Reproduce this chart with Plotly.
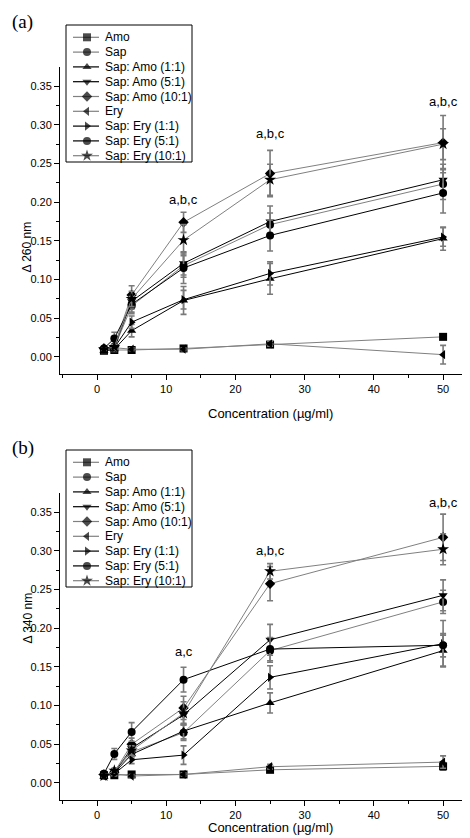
import plotly.graph_objects as go

conc = [1, 2.5, 5, 12.5, 25, 50]

names = ["Amo", "Sap", "Sap: Amo (1:1)", "Sap: Amo (5:1)", "Sap: Amo (10:1)",
         "Ery", "Sap: Ery (1:1)", "Sap: Ery (5:1)", "Sap: Ery (10:1)"]
symbols = ["square", "circle", "triangle-up", "triangle-down", "diamond",
           "triangle-left", "triangle-right", "circle", "star"]
line_colors = ["#808080", "#808080", "#000000", "#000000", "#808080",
               "#808080", "#000000", "#000000", "#808080"]

# Panel (a): Delta 260 nm
a_amo = [0.008, 0.009, 0.009, 0.011, 0.016, 0.026]
a_sap = [0.009, 0.012, 0.066, 0.118, 0.171, 0.2235]
a_sa11 = [0.008, 0.010, 0.034, 0.073, 0.101, 0.153]
a_sa51 = [0.010, 0.013, 0.072, 0.121, 0.175, 0.229]
a_sa101 = [0.011, 0.014, 0.080, 0.174, 0.237, 0.277]
a_ery = [0.010, 0.012, 0.010, 0.010, 0.017, 0.003]
a_se11 = [0.010, 0.012, 0.045, 0.074, 0.108, 0.155]
a_se51 = [0.011, 0.024, 0.068, 0.115, 0.157, 0.212]
a_se101 = [0.010, 0.013, 0.075, 0.151, 0.229, 0.275]

a_err_amo = [0.002, 0.002, 0.002, 0.002, 0.003, 0.003]
a_err_sap = [0.003, 0.004, 0.010, 0.015, 0.015, 0.020]
a_err_sa11 = [0.002, 0.003, 0.008, 0.018, 0.020, 0.015]
a_err_sa51 = [0.002, 0.003, 0.010, 0.015, 0.020, 0.020]
a_err_sa101 = [0.002, 0.003, 0.012, 0.013, 0.030, 0.035]
a_err_ery = [0.002, 0.002, 0.002, 0.002, 0.003, 0.012]
a_err_se11 = [0.002, 0.003, 0.008, 0.012, 0.015, 0.012]
a_err_se51 = [0.003, 0.008, 0.010, 0.020, 0.020, 0.026]
a_err_se101 = [0.002, 0.003, 0.010, 0.020, 0.020, 0.020]

# Panel (b): Delta 340 nm
b_amo = [0.010, 0.010, 0.011, 0.011, 0.017, 0.0215]
b_sap = [0.010, 0.015, 0.040, 0.065, 0.171, 0.234]
b_sa11 = [0.008, 0.013, 0.037, 0.067, 0.1034, 0.171]
b_sa51 = [0.010, 0.013, 0.045, 0.088, 0.185, 0.2425]
b_sa101 = [0.011, 0.014, 0.050, 0.097, 0.2575, 0.3174]
b_ery = [0.009, 0.012, 0.009, 0.011, 0.021, 0.027]
b_se11 = [0.011, 0.012, 0.030, 0.036, 0.1365, 0.180]
b_se51 = [0.012, 0.0375, 0.066, 0.1335, 0.173, 0.178]
b_se101 = [0.009, 0.016, 0.042, 0.090, 0.2735, 0.302]

b_err_amo = [0.002, 0.002, 0.002, 0.002, 0.003, 0.005]
b_err_sap = [0.003, 0.003, 0.006, 0.010, 0.015, 0.015]
b_err_sa11 = [0.002, 0.003, 0.005, 0.010, 0.013, 0.020]
b_err_sa51 = [0.002, 0.003, 0.006, 0.012, 0.020, 0.020]
b_err_sa101 = [0.002, 0.003, 0.008, 0.015, 0.022, 0.030]
b_err_ery = [0.002, 0.002, 0.002, 0.002, 0.003, 0.008]
b_err_se11 = [0.002, 0.003, 0.005, 0.012, 0.015, 0.030]
b_err_se51 = [0.003, 0.007, 0.012, 0.016, 0.015, 0.015]
b_err_se101 = [0.002, 0.003, 0.006, 0.015, 0.010, 0.020]

panel_a = [a_amo, a_sap, a_sa11, a_sa51, a_sa101, a_ery, a_se11, a_se51, a_se101]
panel_a_err = [a_err_amo, a_err_sap, a_err_sa11, a_err_sa51, a_err_sa101,
               a_err_ery, a_err_se11, a_err_se51, a_err_se101]
panel_b = [b_amo, b_sap, b_sa11, b_sa51, b_sa101, b_ery, b_se11, b_se51, b_se101]
panel_b_err = [b_err_amo, b_err_sap, b_err_sa11, b_err_sa51, b_err_sa101,
               b_err_ery, b_err_se11, b_err_se51, b_err_se101]

sig_a_x = [12.5, 25, 50]
sig_a_y = [0.204, 0.289, 0.330]
sig_a_txt = ["a,b,c", "a,b,c", "a,b,c"]
sig_b_x = [12.5, 25, 50]
sig_b_y = [0.170, 0.300, 0.363]
sig_b_txt = ["a,c", "a,b,c", "a,b,c"]

W, H = 470, 838
FONT = "Liberation Sans, Arial, sans-serif"
SERIF = "Liberation Serif, Times New Roman, serif"

fig = go.Figure()


def px(x):
    return x / W


def py(y):
    return 1 - y / H


def msize(sym):
    return 9 if sym == "star" else 8


def add_panel(data, errs, xa, ya):
    for i, (vals, err) in enumerate(zip(data, errs)):
        fig.add_trace(go.Scatter(
            x=conc, y=vals, name=names[i], mode="lines+markers",
            xaxis=xa, yaxis=ya, showlegend=False,
            line=dict(color=line_colors[i], width=1),
            marker=dict(symbol=symbols[i], size=msize(symbols[i]),
                        color="black", line=dict(width=0)),
            error_y=dict(type="data", array=err, visible=True,
                         color="#7a7a7a", thickness=1.6, width=3),
        ))


add_panel(panel_a, panel_a_err, "x", "y")
add_panel(panel_b, panel_b_err, "x2", "y2")

# Hand-built legends (box geometry in pixel units on dedicated overlay axes)
LEG_X0, LEG_X1 = 58, 184
LEG_H = 137
ITEM0, ITEM_STEP = 12.3, 14.8
SEG_X = [65 - LEG_X0, 79 - LEG_X0, 91 - LEG_X0]
TEXT_X = 95 - LEG_X0


def add_legend(xa, ya):
    for i in range(len(names)):
        yy = ITEM0 + ITEM_STEP * i
        fig.add_trace(go.Scatter(
            x=SEG_X, y=[yy, yy, yy], mode="lines+markers",
            xaxis=xa, yaxis=ya, showlegend=False, hoverinfo="skip",
            line=dict(color=line_colors[i], width=1.2),
            marker=dict(symbol=symbols[i], size=[0, msize(symbols[i]), 0],
                        color="black", line=dict(width=0)),
        ))


add_legend("x3", "y3")
add_legend("x4", "y4")

xrange = [-5.35, 54.9]
yrange = [-0.022, 0.3747]

axis_common = dict(showline=True, linecolor="black", linewidth=1, mirror=False,
                   showgrid=False, zeroline=False, ticks="outside", ticklen=5,
                   tickwidth=1, tickcolor="black",
                   tickfont=dict(family=FONT, size=11, color="black"))

xa = dict(axis_common, domain=[px(52), px(469)], range=xrange, tick0=0, dtick=10,
          minor=dict(ticks="outside", ticklen=3, dtick=5, tick0=0, tickcolor="black"))
ya = dict(axis_common, range=yrange, tick0=0, dtick=0.05, tickformat=".2f",
          minor=dict(ticks="outside", ticklen=3, dtick=0.025, tick0=0, tickcolor="black"))

hidden = dict(visible=False, showgrid=False, zeroline=False, fixedrange=True)

LEG_A_TOP = 17
LEG_B_TOP = 442

fig.update_layout(
    width=W, height=H, margin=dict(l=0, r=0, t=0, b=0),
    paper_bgcolor="white", plot_bgcolor="white", showlegend=False,
    xaxis=dict(xa, anchor="y"),
    yaxis=dict(ya, domain=[py(366), py(59)], anchor="x"),
    xaxis2=dict(xa, anchor="y2"),
    yaxis2=dict(ya, domain=[py(792), py(485)], anchor="x2"),
    xaxis3=dict(hidden, domain=[px(LEG_X0), px(LEG_X1)], range=[0, LEG_X1 - LEG_X0],
                anchor="y3"),
    yaxis3=dict(hidden, domain=[py(LEG_A_TOP + LEG_H), py(LEG_A_TOP)],
                range=[LEG_H, 0], anchor="x3"),
    xaxis4=dict(hidden, domain=[px(LEG_X0), px(LEG_X1)], range=[0, LEG_X1 - LEG_X0],
                anchor="y4"),
    yaxis4=dict(hidden, domain=[py(LEG_B_TOP + LEG_H), py(LEG_B_TOP)],
                range=[LEG_H, 0], anchor="x4"),
)

shapes = []
for top in (LEG_A_TOP, LEG_B_TOP):
    shapes.append(dict(type="rect", xref="paper", yref="paper",
                       x0=px(LEG_X0), x1=px(LEG_X1), y0=py(top + LEG_H), y1=py(top),
                       line=dict(color="black", width=1), layer="above"))

anns = []
for xr, yr in (("x3", "y3"), ("x4", "y4")):
    for i, n in enumerate(names):
        anns.append(dict(x=TEXT_X, y=ITEM0 + ITEM_STEP * i, xref=xr, yref=yr,
                         text=n, xanchor="left", yanchor="middle", showarrow=False,
                         font=dict(family=FONT, size=12, color="black")))

for xv, yv, t in zip(sig_a_x, sig_a_y, sig_a_txt):
    anns.append(dict(x=xv, y=yv, xref="x", yref="y", text=t, showarrow=False,
                     font=dict(family=FONT, size=13, color="black")))
for xv, yv, t in zip(sig_b_x, sig_b_y, sig_b_txt):
    anns.append(dict(x=xv, y=yv, xref="x2", yref="y2", text=t, showarrow=False,
                     font=dict(family=FONT, size=13, color="black")))

anns.append(dict(x=px(2), y=py(1), xref="paper", yref="paper", text="(a)",
                 xanchor="left", yanchor="top", showarrow=False,
                 font=dict(family=SERIF, size=19, color="black")))
anns.append(dict(x=px(2), y=py(427), xref="paper", yref="paper", text="(b)",
                 xanchor="left", yanchor="top", showarrow=False,
                 font=dict(family=SERIF, size=19, color="black")))
anns.append(dict(x=px(262), y=py(406), xref="paper", yref="paper",
                 text="Concentration (µg/ml)", showarrow=False,
                 font=dict(family=FONT, size=13, color="black")))
anns.append(dict(x=px(262), y=py(829), xref="paper", yref="paper",
                 text="Concentration (µg/ml)", showarrow=False,
                 font=dict(family=FONT, size=13, color="black")))
anns.append(dict(x=px(10), y=py(212), xref="paper", yref="paper",
                 text="Δ 260 nm", textangle=-90, showarrow=False,
                 font=dict(family=FONT, size=12, color="black")))
anns.append(dict(x=px(10), y=py(638), xref="paper", yref="paper",
                 text="Δ 340 nm", textangle=-90, showarrow=False,
                 font=dict(family=FONT, size=12, color="black")))

fig.update_layout(annotations=anns, shapes=shapes)

fig.write_html("out.html")
